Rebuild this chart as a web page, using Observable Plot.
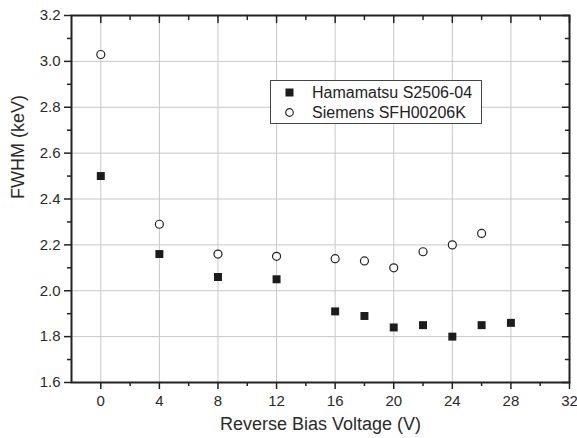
<!DOCTYPE html>
<html><head><meta charset="utf-8">
<script src="https://cdn.jsdelivr.net/npm/d3@7"></script>
<script src="https://cdn.jsdelivr.net/npm/@observablehq/plot@0.6"></script>
<style>
body{margin:0;background:#fff;}
#wrap{position:relative;width:577px;height:438px;font-family:"Liberation Sans",Arial,Helvetica,sans-serif;}
#legend{position:absolute;left:270px;top:80px;width:212px;height:44px;border:1px solid #444;background:#fff;font-size:16px;color:#222;box-sizing:border-box;}
#legend .row{position:absolute;left:0;height:20px;line-height:20px;white-space:nowrap;}
#legend svg{position:absolute;left:14px;top:5px;}
#legend span{position:absolute;left:41px;top:0;}
</style></head>
<body><div id="wrap"></div>
<script>
const seriesNames = ["Hamamatsu S2506-04", "Siemens SFH00206K"];
const voltsH = [0, 4, 8, 12, 16, 18, 20, 22, 24, 26, 28];
const fwhmH = [2.50, 2.16, 2.06, 2.05, 1.91, 1.89, 1.84, 1.85, 1.80, 1.85, 1.86];
const voltsS = [0, 4, 8, 12, 16, 18, 20, 22, 24, 26];
const fwhmS = [3.03, 2.29, 2.16, 2.15, 2.14, 2.13, 2.10, 2.17, 2.20, 2.25];
const xTicks = [0, 4, 8, 12, 16, 20, 24, 28, 32];
const xMinor = [2, 6, 10, 14, 18, 22, 26, 30];
const yTicks = [1.6, 1.8, 2.0, 2.2, 2.4, 2.6, 2.8, 3.0, 3.2];
const yMinor = [1.7, 1.9, 2.1, 2.3, 2.5, 2.7, 2.9, 3.1];
const xTitle = "Reverse Bias Voltage (V)";
const yTitle = "FWHM (keV)";

const dataH = voltsH.map((v, i) => ({v, f: fwhmH[i]}));
const dataS = voltsS.map((v, i) => ({v, f: fwhmS[i]}));
const ink = "#222";
const labelInk = "#2a2a2a";
const tickShape = {draw(ctx, l) { ctx.moveTo(0, 0); ctx.lineTo(0, -l); }};

const chart = Plot.plot({
  width: 577, height: 438,
  marginLeft: 71, marginRight: 8, marginTop: 15, marginBottom: 56,
  style: {fontFamily: '"Liberation Sans", Arial, Helvetica, sans-serif', fontSize: "15px", color: ink, background: "#fff"},
  x: {domain: [-2, 32]},
  y: {domain: [1.6, 3.2]},
  marks: [
    Plot.gridX(xTicks, {stroke: "#c8c8c8", strokeOpacity: 1, strokeWidth: 1}),
    Plot.gridY(yTicks, {stroke: "#c8c8c8", strokeOpacity: 1, strokeWidth: 1}),
    Plot.axisX(xTicks, {anchor: "bottom", tickSize: 7, tickPadding: 6, strokeWidth: 1.5, stroke: ink, fill: labelInk, label: null, fontSize: 15}),
    Plot.axisX(xMinor, {anchor: "bottom", tickSize: 4, strokeWidth: 1.5, stroke: ink, tickFormat: () => "", label: null}),
    Plot.axisY(yTicks, {anchor: "left", tickSize: 7, tickPadding: 4, strokeWidth: 1.5, stroke: ink, fill: labelInk, tickFormat: d3.format(".1f"), label: null, fontSize: 15}),
    Plot.axisY(yMinor, {anchor: "left", tickSize: 4, strokeWidth: 1.5, stroke: ink, tickFormat: () => "", label: null}),
    Plot.vector(xTicks, {x: d => d, frameAnchor: "top", length: 7, rotate: 180, anchor: "start", shape: tickShape, stroke: ink, strokeWidth: 1.5}),
    Plot.vector(xMinor, {x: d => d, frameAnchor: "top", length: 4, rotate: 180, anchor: "start", shape: tickShape, stroke: ink, strokeWidth: 1.5}),
    Plot.vector(yTicks, {y: d => d, frameAnchor: "right", length: 7, rotate: -90, anchor: "start", shape: tickShape, stroke: ink, strokeWidth: 1.5}),
    Plot.vector(yMinor, {y: d => d, frameAnchor: "right", length: 4, rotate: -90, anchor: "start", shape: tickShape, stroke: ink, strokeWidth: 1.5}),
    Plot.frame({stroke: ink, strokeWidth: 2}),
    Plot.dot(dataH, {x: "v", y: "f", symbol: "square", r: 4.5, fill: "#1c1c1c", stroke: "none"}),
    Plot.dot(dataS, {x: "v", y: "f", symbol: "circle", r: 4, fill: "#fff", stroke: ink, strokeWidth: 1.2}),
    Plot.text([xTitle], {frameAnchor: "bottom", dy: 47, fontSize: 18, fill: labelInk}),
    Plot.text([yTitle], {frameAnchor: "left", dx: -53, rotate: -90, fontSize: 18, fill: labelInk})
  ]
});
const wrap = document.getElementById("wrap");
wrap.appendChild(chart);

const legend = document.createElement("div");
legend.id = "legend";
legend.innerHTML = `
  <div class="row" style="top:2px;width:100%"><svg width="10" height="10"><rect x="0.5" y="0.5" width="8" height="8" fill="#1c1c1c"/></svg><span>${seriesNames[0]}</span></div>
  <div class="row" style="top:22px;width:100%"><svg width="10" height="10"><circle cx="4.5" cy="4.5" r="3.8" fill="#fff" stroke="${ink}" stroke-width="1.2"/></svg><span>${seriesNames[1]}</span></div>`;
wrap.appendChild(legend);
</script>
</body></html>
